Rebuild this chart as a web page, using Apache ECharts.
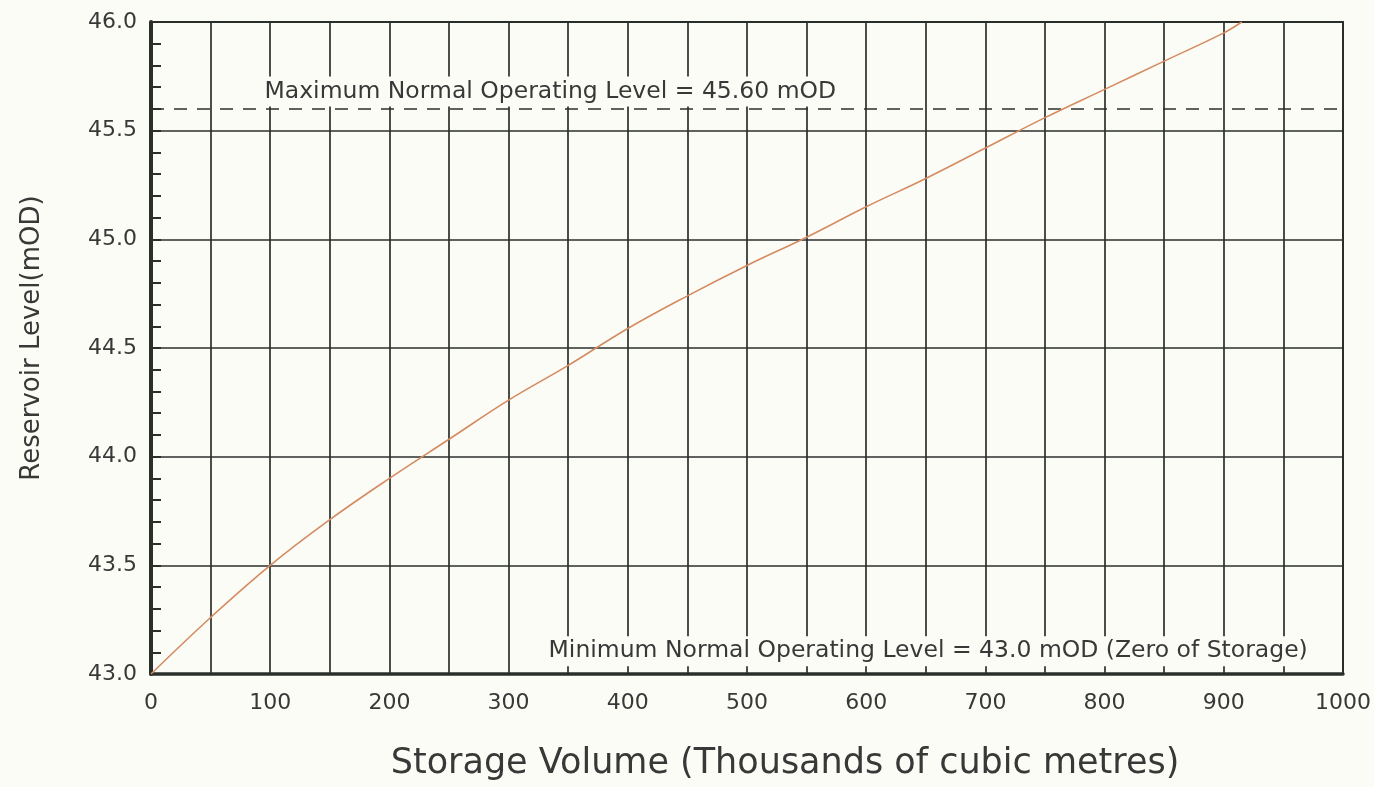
<!DOCTYPE html>
<html>
<head>
<meta charset="utf-8">
<title>Reservoir Level - Storage Curve</title>
<script src="https://cdn.jsdelivr.net/npm/echarts@6/dist/echarts.min.js"></script>
<style>
  html, body { margin: 0; padding: 0; background: #fcfcf6; }
  #chart { width: 1374px; height: 787px; }
</style>
</head>
<body>
<div id="chart"></div>
<script>
// Storage volume (thousands of m³) against reservoir level (mOD)
const storage = [0, 50, 100, 150, 200, 250, 300, 350, 400, 450, 500, 550, 600, 650, 700, 750, 800, 850, 900, 915];
const level   = [43.0, 43.26, 43.5, 43.71, 43.9, 44.08, 44.26, 44.42, 44.59, 44.74, 44.88, 45.01, 45.15, 45.28, 45.42, 45.56, 45.69, 45.82, 45.95, 46.0];

// Axis tick labels
const xTickLabels = [0, 100, 200, 300, 400, 500, 600, 700, 800, 900, 1000];
const yTickLabels = ['43.0', '43.5', '44.0', '44.5', '45.0', '45.5', '46.0'];

// Operating levels
const maxOperatingLevel = 45.60;
const minOperatingLevel = 43.0;
const maxLevelText = 'Maximum Normal Operating Level = 45.60 mOD';
const minLevelText = 'Minimum Normal Operating Level = 43.0 mOD (Zero of Storage)';
// where the two notes sit, in data units [storage, level]
const maxNoteAt = [335, 45.68];
const minNoteAt = [652, 43.105];

const FONT = 'DejaVu Sans';
const INK = '#2b2f2b';
const TEXT = '#383838';
const PAPER = '#fcfcf6';

const chart = echarts.init(document.getElementById('chart'), null, { renderer: 'canvas' });

const noteLabel = {
  show: true,
  position: 'inside',
  fontFamily: FONT,
  fontSize: 23.5,
  color: TEXT,
  backgroundColor: PAPER,
  padding: [3, 4]
};

chart.setOption({
  backgroundColor: PAPER,
  animation: false,
  grid: {
    left: 151, right: 29, top: 22, bottom: 113,
    show: true,
    borderColor: INK,
    borderWidth: 2,
    backgroundColor: 'transparent'
  },
  xAxis: {
    type: 'value',
    min: 0, max: 1000, interval: 50,
    name: 'Storage Volume (Thousands of cubic metres)',
    nameLocation: 'middle',
    nameGap: 72,
    nameTextStyle: { fontFamily: FONT, fontSize: 35, color: TEXT, padding: [0, 0, 0, 76] },
    axisLine: { show: true, lineStyle: { color: INK, width: 3.5 } },
    axisTick: { show: false },
    axisLabel: {
      margin: 18,
      fontFamily: FONT, fontSize: 22, color: TEXT,
      showMinLabel: true, showMaxLabel: true, hideOverlap: false,
      formatter: v => xTickLabels.includes(v) ? String(v) : ''
    },
    splitLine: { show: true, lineStyle: { color: INK, width: 1.7 } }
  },
  yAxis: {
    type: 'value',
    min: 43, max: 46, interval: 0.5,
    name: 'Reservoir Level(mOD)',
    nameLocation: 'middle',
    nameGap: 106,
    nameTextStyle: { fontFamily: FONT, fontSize: 26, color: TEXT, padding: [0, 0, 0, 20] },
    axisLine: { show: true, lineStyle: { color: INK, width: 4 } },
    axisTick: { show: true, inside: true, length: 10, lineStyle: { color: INK, width: 2 } },
    minorTick: { show: true, splitNumber: 5, length: 10, lineStyle: { color: INK, width: 2 } },
    axisLabel: {
      margin: 14,
      fontFamily: FONT, fontSize: 22, color: TEXT,
      formatter: v => yTickLabels.find(t => Math.abs(parseFloat(t) - v) < 1e-6) || ''
    },
    splitLine: { show: true, lineStyle: { color: INK, width: 1.7 } }
  },
  series: [
    {
      name: 'Storage curve',
      type: 'line',
      data: storage.map((s, i) => [s, level[i]]),
      showSymbol: false,
      smooth: 0.4,
      lineStyle: { color: '#d58b62', width: 1.6 },
      z: 5,
      markLine: {
        silent: true,
        symbol: 'none',
        label: { show: false },
        lineStyle: { color: INK, type: [13, 10], width: 1.5 },
        data: [{ yAxis: maxOperatingLevel }]
      }
    },
    {
      name: 'Notes',
      type: 'scatter',
      data: [],
      z: 6,
      markPoint: {
        silent: true,
        symbol: 'circle',
        symbolSize: 0,
        data: [
          { coord: maxNoteAt, label: Object.assign({}, noteLabel, { formatter: maxLevelText }) },
          { coord: minNoteAt, label: Object.assign({}, noteLabel, { formatter: minLevelText }) }
        ]
      }
    }
  ]
});
</script>
</body>
</html>
